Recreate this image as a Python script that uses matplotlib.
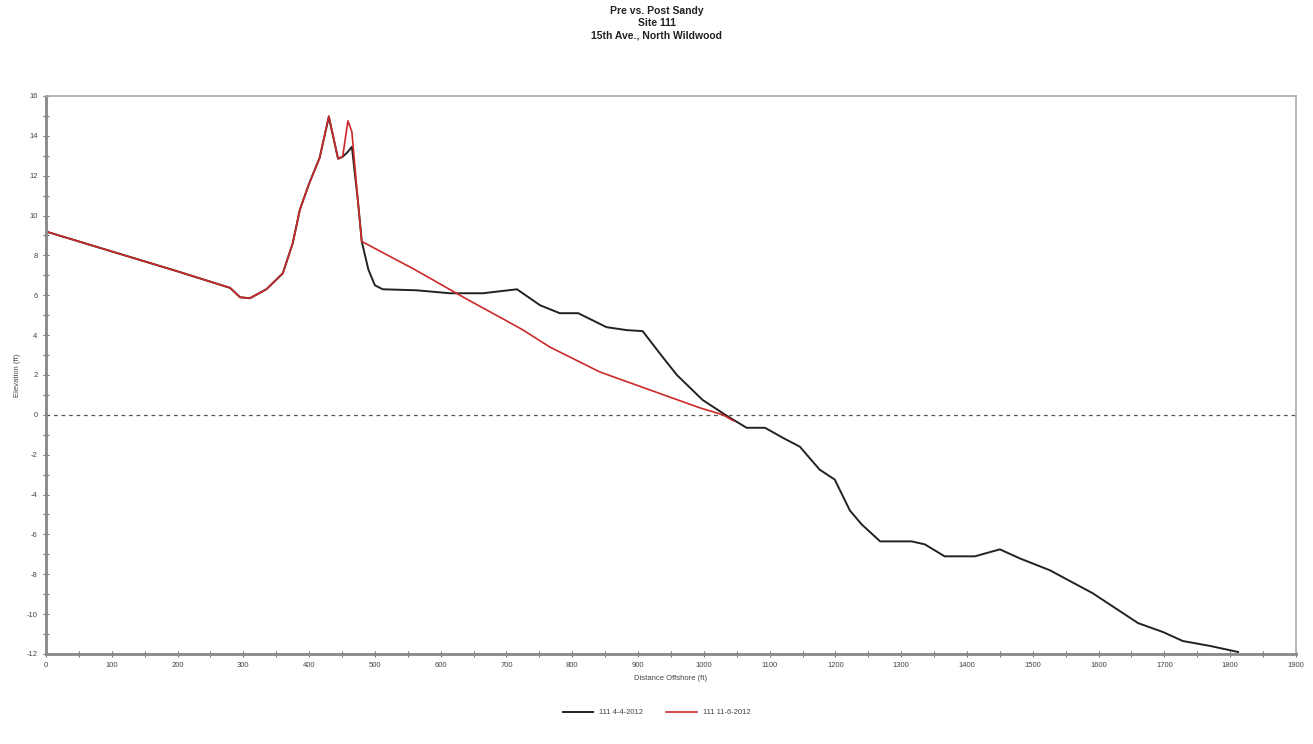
import matplotlib.pyplot as plt
from matplotlib.ticker import MultipleLocator

plt.rcParams['font.family'] = ['Liberation Sans', 'DejaVu Sans']
plt.rcParams['axes.unicode_minus'] = False

# ------------------------------------------------------------
# Profile data (distance offshore ft, elevation ft)
# ------------------------------------------------------------
pre_x = [0, 100, 200, 280, 295, 310, 335, 360, 375, 386, 400, 416, 430,
         444, 451, 459, 465, 474, 480, 490, 500, 512, 563, 614, 664, 690,
         716, 751, 781, 809, 852, 883, 907, 935, 959, 998, 1035, 1065, 1093,
         1120, 1146, 1176, 1199, 1222, 1240, 1268, 1316, 1336, 1366, 1412,
         1450, 1480, 1526, 1591, 1660, 1698, 1728, 1770, 1812]
pre_y = [9.2, 8.2, 7.2, 6.37, 5.9, 5.85, 6.3, 7.1, 8.6, 10.3, 11.6, 12.9, 14.95,
         12.85, 12.95, 13.2, 13.45, 10.8, 8.7, 7.3, 6.5, 6.3, 6.25, 6.1, 6.1, 6.2,
         6.3, 5.5, 5.1, 5.1, 4.4, 4.25, 4.2, 3.0, 2.0, 0.75, -0.05, -0.65, -0.65,
         -1.15, -1.6, -2.75, -3.25, -4.8, -5.5, -6.35, -6.35, -6.5, -7.1, -7.1,
         -6.75, -7.2, -7.8, -8.95, -10.45, -10.9, -11.35, -11.6, -11.9]

post_x = [0, 100, 200, 280, 295, 310, 335, 360, 375, 386, 400, 416, 430,
          444, 451, 459, 465, 474, 480, 560, 640, 690, 725, 766, 842, 918,
          994, 1029, 1045]
post_y = [9.2, 8.2, 7.2, 6.37, 5.9, 5.85, 6.3, 7.1, 8.6, 10.3, 11.6, 12.9, 15.0,
          12.85, 12.95, 14.75, 14.2, 10.8, 8.7, 7.3, 5.8, 4.9, 4.26, 3.4, 2.15,
          1.25, 0.35, 0.0, -0.3]

series_labels = ['111 4-4-2012', '111 11-6-2012']
title_lines = ['Pre vs. Post Sandy', 'Site 111', '15th Ave., North Wildwood']

# ------------------------------------------------------------
# Figure
# ------------------------------------------------------------
fig = plt.figure(figsize=(13.13, 7.44), dpi=100)
ax = fig.add_axes([0.035, 0.121, 0.952, 0.750])

ax.axhline(0, color='#555555', lw=0.9, ls=(0, (3, 3)))
l1, = ax.plot(pre_x, pre_y, color='#222222', lw=1.4, label=series_labels[0])
l2, = ax.plot(post_x, post_y, color='#cc2a2a', lw=1.2, label=series_labels[1])

ax.set_xlim(0, 1900)
ax.set_ylim(-12, 16)
ax.xaxis.set_major_locator(MultipleLocator(100))
ax.xaxis.set_minor_locator(MultipleLocator(50))
ax.yaxis.set_major_locator(MultipleLocator(2))
ax.yaxis.set_minor_locator(MultipleLocator(1))
ax.tick_params(which='both', direction='inout', colors='#777777',
               labelcolor='#444444', labelsize=5.5)
ax.tick_params(which='major', length=5, width=0.8)
ax.tick_params(which='minor', length=4, width=0.8)

for side in ['left', 'bottom']:
    ax.spines[side].set_color('#888888')
    ax.spines[side].set_linewidth(2.0)
for side in ['top', 'right']:
    ax.spines[side].set_color('#aaaaaa')
    ax.spines[side].set_linewidth(1.2)

ax.set_xlabel('Distance Offshore (ft)', fontsize=5.5, color='#444444', labelpad=4)
ax.set_ylabel('Elevation (ft)', fontsize=5.5, color='#444444', labelpad=4)

fig.text(0.5, 0.946, '\n'.join(title_lines), ha='center', va='bottom',
         fontsize=7.5, fontweight='bold', color='#222222', linespacing=1.25)

fig.legend(handles=[l1, l2], loc='center', bbox_to_anchor=(0.5, 0.042),
           ncol=2, frameon=False, fontsize=5.5, handlelength=4,
           columnspacing=3, labelcolor='#444444')

fig.savefig('out.png', dpi=100, facecolor='white')
